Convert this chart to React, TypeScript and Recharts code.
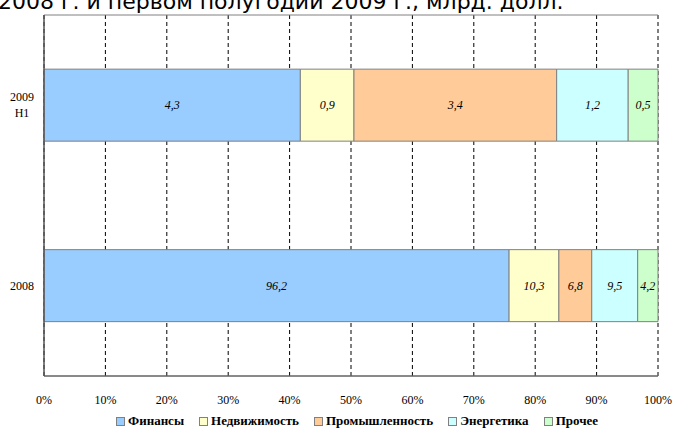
import React from 'react';
import {
  BarChart,
  Bar,
  XAxis,
  YAxis,
  CartesianGrid,
  Legend,
  LabelList,
} from 'recharts';

const periods = ['2009\nH1', '2008'];
const finance = [4.3, 96.2];
const realty = [0.9, 10.3];
const industry = [3.4, 6.8];
const energy = [1.2, 9.5];
const other = [0.5, 4.2];
const shareTicks = [0, 0.1, 0.2, 0.3, 0.4, 0.5, 0.6, 0.7, 0.8, 0.9, 1];
const bandTicks = [0, 1, 2];

const series = [
  { key: 'fin', name: 'Финансы', color: '#99ccff', values: finance },
  { key: 'realty', name: 'Недвижимость', color: '#ffffcc', values: realty },
  { key: 'ind', name: 'Промышленность', color: '#ffcc99', values: industry },
  { key: 'energy', name: 'Энергетика', color: '#ccffff', values: energy },
  { key: 'other', name: 'Прочее', color: '#ccffcc', values: other },
];

const chartData = periods.map((period, i) => {
  const row: Record<string, string | number> = { period };
  series.forEach((s) => {
    row[s.key] = s.values[i];
  });
  return row;
});

const serif = "'Liberation Serif', 'Times New Roman', serif";

const PeriodTick = (props: any) => {
  const { y, payload } = props;
  const lines = String(payload.value).split('\n');
  const lineH = 16;
  const startY = y - ((lines.length - 1) * lineH) / 2;
  return (
    <text
      x={22}
      y={startY}
      textAnchor="middle"
      fontFamily={serif}
      fontSize={12}
      fill="#000"
      dominantBaseline="central"
    >
      {lines.map((l, i) => (
        <tspan key={i} x={22} y={startY + i * lineH}>
          {l}
        </tspan>
      ))}
    </text>
  );
};

// legend built straight from the series list so the order stays as in the source
const LegendContent = () => (
  <div
    style={{
      display: 'flex',
      justifyContent: 'center',
      gap: 15,
      fontFamily: serif,
      fontSize: 13,
      fontWeight: 'bold',
      color: '#000',
      paddingLeft: 56,
      lineHeight: '18px',
    }}
  >
    {series.map((s) => (
      <span key={s.key} style={{ display: 'flex', alignItems: 'center' }}>
        <span
          style={{
            display: 'inline-block',
            width: 7,
            height: 7,
            background: s.color,
            border: '1px solid #808080',
            marginRight: 3,
          }}
        />
        {s.name}
      </span>
    ))}
  </div>
);

const commaFormat = (v: any) => String(v).replace('.', ',');

const App: React.FC = () => {
  return (
    <div
      style={{
        position: 'absolute',
        left: 0,
        top: 0,
        width: 673,
        height: 430,
        overflow: 'hidden',
        background: '#fff',
      }}
    >
      <div
        style={{
          position: 'absolute',
          left: -2,
          top: -9,
          fontFamily: '"DejaVu Sans", sans-serif',
          fontSize: 22,
          lineHeight: '22px',
          color: '#000',
          whiteSpace: 'nowrap',
        }}
      >
        2008 г. и первом полугодии 2009 г., млрд. долл.
      </div>
      <BarChart
        width={673}
        height={430}
        data={chartData}
        layout="vertical"
        stackOffset="expand"
        barCategoryGap="30%"
        margin={{ top: 15, right: 15, bottom: 0, left: 0 }}
      >
        <CartesianGrid
          horizontal={false}
          stroke="#000"
          strokeDasharray="4 3"
        />
        <CartesianGrid vertical={false} yAxisId="b" stroke="#808080" />
        <XAxis
          type="number"
          domain={[0, 1]}
          ticks={shareTicks}
          tickFormatter={(v: number) => `${Math.round(v * 100)}%`}
          tickLine={false}
          tickSize={0}
          tickMargin={19}
          height={36}
          axisLine={{ stroke: '#555' }}
          tick={{ fontFamily: serif, fontSize: 12, fill: '#000' }}
        />
        <YAxis
          type="category"
          dataKey="period"
          width={44}
          axisLine={{ stroke: '#555' }}
          tickLine={false}
          tick={<PeriodTick />}
        />
        <YAxis
          yAxisId="b"
          type="number"
          domain={[0, 2]}
          ticks={bandTicks}
          mirror
          tickSize={-6}
          tick={false}
          axisLine={{ stroke: '#555' }}
          tickLine={{ stroke: '#555' }}
        />
        <Legend verticalAlign="bottom" height={18} content={<LegendContent />} />
        {series.map((s) => (
          <Bar
            key={s.key}
            dataKey={s.key}
            name={s.name}
            stackId="a"
            fill={s.color}
            stroke="#808080"
            strokeWidth={1}
            isAnimationActive={false}
          >
            <LabelList
              dataKey={s.key}
              position="center"
              formatter={commaFormat}
              fill="#000"
              fontFamily={serif}
              fontSize={12}
              fontStyle="italic"
            />
          </Bar>
        ))}
      </BarChart>
    </div>
  );
};

export default App;
